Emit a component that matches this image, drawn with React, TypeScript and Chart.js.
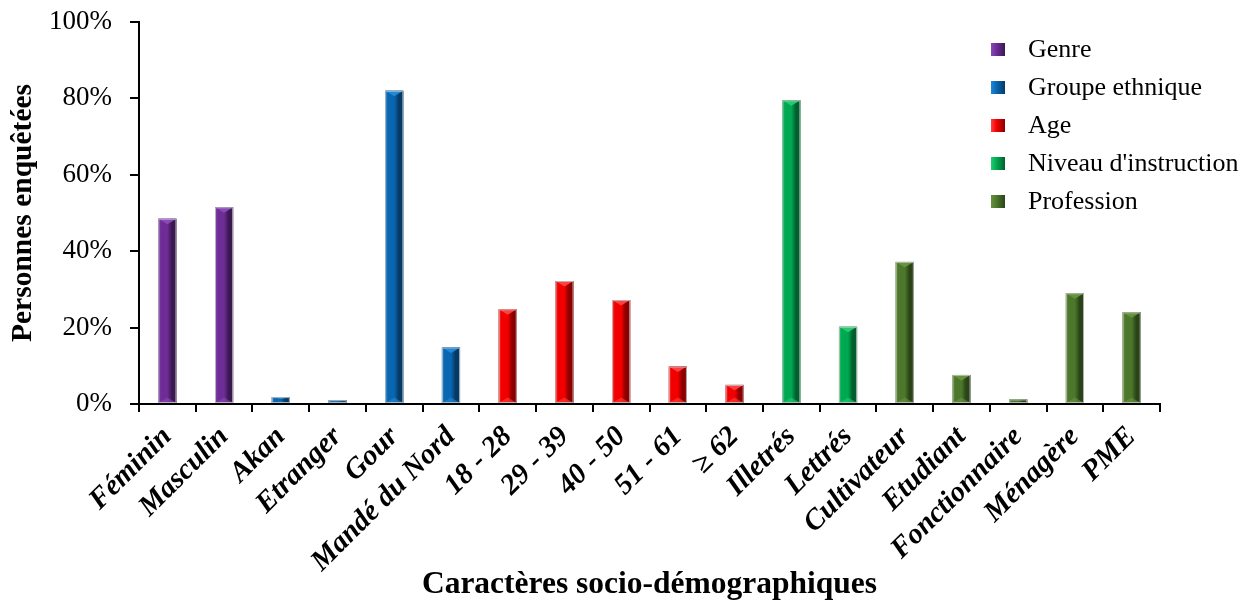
import React, { useEffect, useRef } from "react";
import { Chart, registerables } from "chart.js";

Chart.register(...registerables);

// ---- Data ----
const genreLabels = ["Féminin", "Masculin"];
const genreValues = [48.5, 51.5];
const ethnicLabels = ["Akan", "Etranger", "Gour", "Mandé du Nord"];
const ethnicValues = [1.8, 1, 82, 14.8];
const ageLabels = ["18 - 28", "29 - 39", "40 - 50", "51 - 61", "≥ 62"];
const ageValues = [24.8, 32.2, 27.2, 9.8, 5];
const instructionLabels = ["Illetrés", "Lettrés"];
const instructionValues = [79.5, 20.2];
const professionLabels = ["Cultivateur", "Etudiant", "Fonctionnaire", "Ménagère", "PME"];
const professionValues = [37.2, 7.6, 1.2, 29, 24];

const seriesNames = ["Genre", "Groupe ethnique", "Age", "Niveau d'instruction", "Profession"];
const yTicks = [0, 20, 40, 60, 80, 100];

const groups = [
  { labels: genreLabels, values: genreValues },
  { labels: ethnicLabels, values: ethnicValues },
  { labels: ageLabels, values: ageValues },
  { labels: instructionLabels, values: instructionValues },
  { labels: professionLabels, values: professionValues },
];

// colors: [light, base, dark]
const palette = [
  ["#8a48b8", "#6e2c96", "#3b1852"],
  ["#1f88d8", "#0a66b0", "#053a66"],
  ["#ff4040", "#f20000", "#8a0000"],
  ["#22cc6e", "#00a852", "#00602d"],
  ["#66943c", "#4d782b", "#2a4417"],
];

const allLabels: string[] = groups.flatMap((g) => g.labels);

const SERIF = "'Liberation Serif', 'Times New Roman', serif";

const bevelPlugin = {
  id: "bevel",
  afterDatasetsDraw(chart: any) {
    const ctx = chart.ctx;
    chart.data.datasets.forEach((ds: any, di: number) => {
      const meta = chart.getDatasetMeta(di);
      const [light, base, dark] = palette[di];
      meta.data.forEach((bar: any, i: number) => {
        if (ds.data[i] == null) return;
        const { x, y, base: b, width } = bar.getProps(["x", "y", "base", "width"], true);
        const l = x - width / 2;
        const r = x + width / 2;
        const h = b - y;
        if (h <= 0) return;
        ctx.save();
        const g = ctx.createLinearGradient(l, 0, r, 0);
        g.addColorStop(0, light);
        g.addColorStop(0.15, base);
        g.addColorStop(0.5, base);
        g.addColorStop(0.75, dark);
        g.addColorStop(1, dark);
        ctx.fillStyle = g;
        ctx.fillRect(l, y, width, h);
        const tri = Math.min(width / 2, h / 2);
        ctx.fillStyle = light;
        ctx.beginPath();
        ctx.moveTo(l, y);
        ctx.lineTo(r, y);
        ctx.lineTo(x, y + tri * 0.6);
        ctx.closePath();
        ctx.fill();
        ctx.globalAlpha = 0.6;
        ctx.beginPath();
        ctx.moveTo(l, b);
        ctx.lineTo(r, b);
        ctx.lineTo(x, b - tri * 0.6);
        ctx.closePath();
        ctx.fill();
        ctx.globalAlpha = 1;
        ctx.strokeStyle = "rgba(190,190,190,0.9)";
        ctx.lineWidth = 1;
        ctx.strokeRect(l + 0.5, y + 0.5, width - 1, h - 1);
        ctx.restore();
      });
    });
  },
};

export default function App() {
  const canvasRef = useRef<HTMLCanvasElement | null>(null);

  useEffect(() => {
    document.body.style.margin = "0";
    if (!canvasRef.current) return;
    const datasets = groups.map((g, gi) => {
      const data: (number | null)[] = [];
      groups.forEach((gg, gj) => {
        gg.values.forEach((v) => data.push(gj === gi ? v : null));
      });
      return {
        label: seriesNames[gi],
        data,
        backgroundColor: palette[gi][1],
        borderWidth: 0,
        barPercentage: 0.32,
        categoryPercentage: 1,
      };
    });

    const chart = new Chart(canvasRef.current, {
      type: "bar",
      data: { labels: allLabels, datasets },
      plugins: [bevelPlugin],
      options: {
        animation: false,
        responsive: true,
        maintainAspectRatio: false,
        skipNull: true,
        layout: { padding: { top: 22, right: 96, left: 0, bottom: 0 } },
        plugins: {
          legend: { display: false },
          tooltip: { enabled: false },
        },
        scales: {
          x: {
            afterFit: (s: any) => {
              s.height = 204;
              s.paddingLeft = 0;
              s.paddingRight = 0;
            },
            grid: {
              offset: true,
              drawOnChartArea: false,
              drawTicks: true,
              tickLength: 8,
              color: "#000",
              lineWidth: 2,
            },
            border: { color: "#000", width: 2 },
            ticks: {
              autoSkip: false,
              maxRotation: 45,
              minRotation: 45,
              padding: 8,
              color: "#000",
              font: { family: SERIF, size: 29, weight: "bold", style: "italic" },
            },
            title: {
              display: true,
              text: "Caractères socio-démographiques",
              color: "#000",
              font: { family: SERIF, size: 31.5, weight: "bold" },
              padding: { top: 0, bottom: 4 },
            },
          },
          y: {
            min: 0,
            max: 100,
            afterFit: (s: any) => {
              s.width = 139;
              s.paddingTop = 0;
              s.paddingBottom = 0;
            },
            afterBuildTicks: (s: any) => {
              s.ticks = yTicks.map((v) => ({ value: v }));
            },
            grid: {
              drawOnChartArea: false,
              drawTicks: true,
              tickLength: 9,
              color: "#000",
              lineWidth: 2,
            },
            border: { color: "#000", width: 2 },
            ticks: {
              padding: 18,
              color: "#000",
              font: { family: SERIF, size: 27 },
              callback: (v: any) => v + "%",
            },
            title: {
              display: true,
              text: "Personnes enquêtées",
              color: "#000",
              font: { family: SERIF, size: 29.5, weight: "bold" },
              padding: { top: 6, bottom: 0 },
            },
          },
        },
      } as any,
    });
    return () => chart.destroy();
  }, []);

  const legendTops = [49, 87, 125, 163, 201];

  return (
    <div style={{ position: "fixed", left: 0, top: 0, width: 1256, height: 608, background: "#fff" }}>
      <canvas ref={canvasRef} style={{ width: "100%", height: "100%" }} />
      {seriesNames.map((name, i) => (
        <div
          key={name}
          style={{
            position: "absolute",
            left: 991,
            top: legendTops[i] - 16,
            height: 32,
            display: "flex",
            alignItems: "center",
            fontFamily: SERIF,
            fontSize: 26,
            color: "#000",
            whiteSpace: "nowrap",
          }}
        >
          <span
            style={{
              display: "inline-block",
              width: 14,
              height: 13,
              marginRight: 23,
              background: `linear-gradient(90deg, ${palette[i][0]}, ${palette[i][1]} 40%, ${palette[i][2]})`,
            }}
          />
          <span>{name}</span>
        </div>
      ))}
    </div>
  );
}
